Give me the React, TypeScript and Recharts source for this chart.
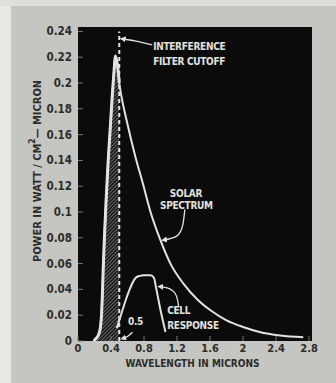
import React from 'react';
import {
  ComposedChart,
  Line,
  Area,
  XAxis,
  YAxis,
  CartesianGrid,
  ReferenceLine,
  ReferenceDot,
} from 'recharts';

// Solar spectrum (wavelength in microns, power in W/cm^2-micron)
const solarWavelength = [
  0.19, 0.22, 0.25, 0.27, 0.285, 0.295, 0.305, 0.32, 0.34, 0.366, 0.394, 0.415, 0.434, 0.455, 0.48, 0.5,
  0.52, 0.6, 0.697, 0.778, 0.879, 1.0, 1.12, 1.28, 1.45, 1.61, 1.8, 2.01, 2.2, 2.45, 2.73,
];
const solarPower = [
  0, 0.002, 0.005, 0.01, 0.02, 0.035, 0.055, 0.08, 0.108, 0.14, 0.168, 0.19, 0.207, 0.221, 0.213, 0.2,
  0.192, 0.168, 0.1425, 0.124, 0.1, 0.078, 0.06, 0.0443, 0.032, 0.0236, 0.016, 0.0107, 0.007, 0.0043, 0.003,
];

// Cell response
const cellWavelength = [0.47, 0.5, 0.54, 0.58, 0.62, 0.66, 0.7, 0.75, 0.8, 0.88, 0.92, 0.95, 1.0, 1.06];
const cellPower = [0.01, 0.016, 0.024, 0.032, 0.039, 0.045, 0.049, 0.0505, 0.051, 0.051, 0.049, 0.04, 0.024, 0.007];

const cutoffWavelength = 0.5;
const cutoffTop = 0.24;

const xTicks = [0, 0.4, 0.8, 1.2, 1.6, 2, 2.4, 2.8];
const yTicks = [0, 0.02, 0.04, 0.06, 0.08, 0.1, 0.12, 0.14, 0.16, 0.18, 0.2, 0.22, 0.24];

// Annotation texts (data coordinates)
const annotationTexts = [
  { x: 0.911, y: 0.2285, text: 'INTERFERENCE', anchor: 'start' },
  { x: 0.911, y: 0.2167, text: 'FILTER CUTOFF', anchor: 'start' },
  { x: 1.309, y: 0.1147, text: 'SOLAR', anchor: 'middle' },
  { x: 1.313, y: 0.105, text: 'SPECTRUM', anchor: 'middle' },
  { x: 1.081, y: 0.0236, text: 'CELL', anchor: 'start' },
  { x: 1.081, y: 0.012, text: 'RESPONSE', anchor: 'start' },
  { x: 0.697, y: 0.0151, text: '0.5', anchor: 'middle' },
];

// Annotation arrow paths (data coordinates)
const arrowFilterX = [0.9, 0.7, 0.53];
const arrowFilterY = [0.2296, 0.2325, 0.2343];
const arrowSolarX = [1.295, 1.27, 1.2, 1.03];
const arrowSolarY = [0.102, 0.09, 0.0815, 0.0782];
const arrowCellX = [1.222, 1.18, 1.08, 0.985];
const arrowCellY = [0.0262, 0.0366, 0.0412, 0.0421];
const arrowHalfX = [0.66, 0.6, 0.535];
const arrowHalfY = [0.0068, 0.0035, 0.0018];

const zip = (xs: number[], ys: number[]) => xs.map((x, i) => ({ x, y: ys[i] }));

const solarData = zip(solarWavelength, solarPower);
const filteredData = solarData.filter((d) => d.x <= cutoffWavelength);
const cellData = zip(cellWavelength, cellPower);
const arrows = [
  zip(arrowFilterX, arrowFilterY),
  zip(arrowSolarX, arrowSolarY),
  zip(arrowCellX, arrowCellY),
  zip(arrowHalfX, arrowHalfY),
];

const FONT = "'DejaVu Sans Condensed', 'Liberation Sans Narrow', 'Liberation Sans', sans-serif";
const INK = '#2c2c2a';
const CHALK = '#e2e2df';

const YLabel = (props: any) => {
  const vb = props.viewBox || { x: 0, y: 0, width: 0, height: 0 };
  const cx = 37;
  const cy = vb.y + vb.height / 2 - 13;
  return (
    <text
      x={cx}
      y={cy}
      transform={`rotate(-90, ${cx}, ${cy})`}
      textAnchor="middle"
      dominantBaseline="central"
      fontFamily={FONT}
      fontWeight="bold"
      fontSize={11}
      fill={INK}
    >
      POWER IN WATT / CM
      <tspan dy={-5} fontSize={8.5}>2</tspan>
      <tspan dy={5}>— MICRON</tspan>
    </text>
  );
};

const XLabel = (props: any) => {
  const vb = props.viewBox || { x: 0, y: 0, width: 0, height: 0 };
  return (
    <text
      x={vb.x + vb.width / 2 - 2.5}
      y={vb.y + 22}
      textAnchor="middle"
      dominantBaseline="central"
      fontFamily={FONT}
      fontWeight="bold"
      fontSize={10}
      fill={INK}
    >
      WAVELENGTH IN MICRONS
    </text>
  );
};

export default function App() {
  return (
    <div style={{ position: 'absolute', left: 0, top: 0, width: 336, height: 383, background: '#c5c5c1', overflow: 'hidden' }}>
      <div style={{ position: 'absolute', left: 0, top: 0, width: 11, height: 383, background: '#e8e8e5' }} />
      <div style={{ position: 'absolute', left: 0, top: 0, width: 336, height: 6, background: '#dededb' }} />
      <div style={{ position: 'absolute', left: 0, top: 0 }}>
        <ComposedChart width={336} height={383} margin={{ top: 27, right: 24, left: 0, bottom: 0 }}>
          <defs>
            <pattern id="hatch" width="2.6" height="2.6" patternUnits="userSpaceOnUse" patternTransform="rotate(45)">
              <rect width="2.6" height="2.6" fill="#1a1a1a" />
              <line x1="0" y1="0" x2="0" y2="2.6" stroke="#8c8c8c" strokeWidth="1.3" />
            </pattern>
            <marker id="arrowhead" markerWidth="6" markerHeight="6" refX="4" refY="3" orient="auto" markerUnits="userSpaceOnUse">
              <path d="M0,0 L6,3 L0,6 Z" fill={CHALK} />
            </marker>
          </defs>
          <CartesianGrid fill="#0b0b0b" stroke="none" horizontal={false} vertical={false} />
          <XAxis
            dataKey="x"
            type="number"
            domain={[0, 2.836]}
            ticks={xTicks}
            allowDataOverflow
            height={42}
            axisLine={false}
            tickSize={-5}
            tickMargin={8}
            tickLine={{ stroke: '#777', strokeWidth: 1 }}
            tick={{ fill: INK, fontSize: 11, fontWeight: 'bold', fontFamily: FONT }}
            label={{ content: XLabel }}
          />
          <YAxis
            dataKey="y"
            type="number"
            domain={[0, 0.2434]}
            ticks={yTicks}
            allowDataOverflow
            width={78}
            axisLine={false}
            tickSize={-5}
            tickMargin={11}
            tickLine={{ stroke: '#777', strokeWidth: 1 }}
            tick={{ fill: INK, fontSize: 11.5, fontWeight: 'bold', fontFamily: FONT }}
            label={{ content: YLabel }}
          />
          <Area
            data={filteredData}
            dataKey="y"
            type="monotone"
            fill="url(#hatch)"
            fillOpacity={1}
            stroke={CHALK}
            strokeWidth={3}
            isAnimationActive={false}
            dot={false}
            activeDot={false}
          />
          <Line
            data={solarData}
            dataKey="y"
            type="monotone"
            stroke={CHALK}
            strokeWidth={2}
            dot={false}
            activeDot={false}
            isAnimationActive={false}
          />
          <Line
            data={cellData}
            dataKey="y"
            type="monotone"
            stroke={CHALK}
            strokeWidth={2}
            dot={false}
            activeDot={false}
            isAnimationActive={false}
          />
          <ReferenceLine
            segment={[
              { x: cutoffWavelength, y: 0 },
              { x: cutoffWavelength, y: cutoffTop },
            ]}
            stroke={CHALK}
            strokeWidth={2}
            strokeDasharray="4 3"
          />
          {arrows.map((pts, i) => (
            <Line
              key={'arrow' + i}
              data={pts}
              dataKey="y"
              type="natural"
              stroke={CHALK}
              strokeWidth={1.3}
              dot={false}
              activeDot={false}
              isAnimationActive={false}
              markerEnd="url(#arrowhead)"
            />
          ))}
          {annotationTexts.map((a, i) => (
            <ReferenceDot
              key={'t' + i}
              x={a.x}
              y={a.y}
              r={0}
              shape={(p: any) => (
                <text
                  x={p.cx}
                  y={p.cy}
                  textAnchor={a.anchor as any}
                  dominantBaseline="central"
                  fontFamily={FONT}
                  fontWeight="bold"
                  fontSize={10}
                  letterSpacing={-0.3}
                  fill={CHALK}
                >
                  {a.text}
                </text>
              )}
            />
          ))}
        </ComposedChart>
      </div>
    </div>
  );
}
